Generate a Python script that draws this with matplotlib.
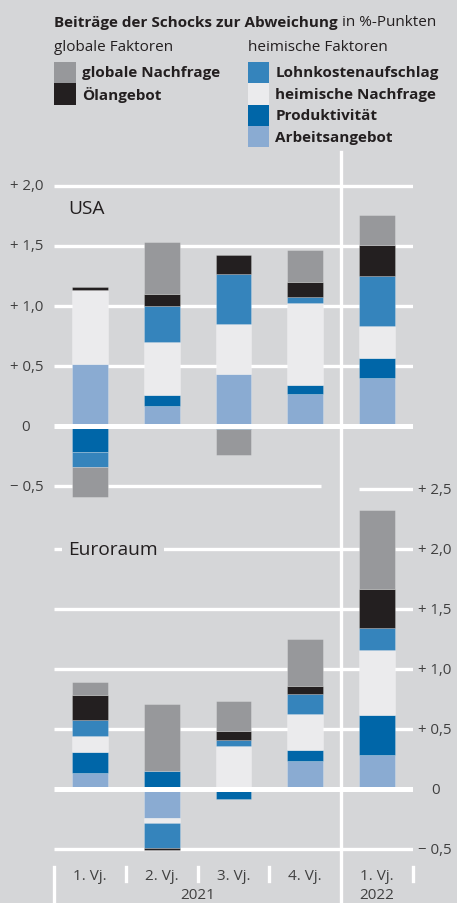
import numpy as np
import matplotlib
matplotlib.use("Agg")
import matplotlib.pyplot as plt
import matplotlib.transforms as mtransforms
from matplotlib.patches import Rectangle
from matplotlib.lines import Line2D

# ---------------- data ----------------
categories = ["1. Vj.", "2. Vj.", "3. Vj.", "4. Vj.", "1. Vj."]
years = ["2021", "2022"]
series_names = ["Arbeitsangebot", "Produktivität", "heimische Nachfrage",
                "Lohnkostenaufschlag", "Ölangebot", "globale Nachfrage"]

usa_arbeitsangebot = [0.52, 0.17, 0.435, 0.27, 0.405]
usa_produktivitaet = [-0.215, 0.09, -0.025, 0.075, 0.16]
usa_heim_nachfrage = [0.615, 0.445, 0.42, 0.68, 0.27]
usa_lohnkosten = [-0.12, 0.295, 0.41, 0.05, 0.415]
usa_oelangebot = [0.025, 0.10, 0.16, 0.125, 0.26]
usa_global_nachfrage = [-0.25, 0.435, -0.215, 0.27, 0.25]

eu_arbeitsangebot = [0.135, -0.24, 0.0, 0.24, 0.285]
eu_produktivitaet = [0.18, 0.15, -0.08, 0.09, 0.335]
eu_heim_nachfrage = [0.13, -0.04, 0.365, 0.30, 0.545]
eu_lohnkosten = [0.135, -0.21, 0.05, 0.165, 0.18]
eu_oelangebot = [0.21, -0.012, 0.072, 0.07, 0.325]
eu_global_nachfrage = [0.105, 0.56, 0.25, 0.39, 0.655]

usa_ticks = [2.0, 1.5, 1.0, 0.5, 0.0, -0.5]
usa_ticklabels = ["+ 2,0", "+ 1,5", "+ 1,0", "+ 0,5", "0", "\u2212 0,5"]
eu_ticks = [2.5, 2.0, 1.5, 1.0, 0.5, 0.0, -0.5]
eu_ticklabels = ["+ 2,5", "+ 2,0", "+ 1,5", "+ 1,0", "+ 0,5", "0", "\u2212 0,5"]

# ---------------- style ----------------
BG = "#d5d6d8"
C_GLOBAL = "#97989b"
C_OEL = "#231f20"
C_LOHN = "#3584bc"
C_HEIM = "#ebebed"
C_PROD = "#0066a8"
C_ARB = "#8aabd2"
TXT = "#231f20"
TICK = "#404040"
FONT = ["Open Sans", "DejaVu Sans"]
plt.rcParams["font.family"] = FONT

W, H = 457, 904
fig = plt.figure(figsize=(W / 100, H / 100), dpi=100, facecolor=BG)

X0, DX = 90.0, 71.75  # pixel centre of first bar, pixel spacing
x = np.arange(len(categories))


def make_axes(zero_px, ppu, ylo, yhi):
    top = zero_px - yhi * ppu
    bot = zero_px - ylo * ppu
    left = X0 - 0.5 * DX
    right = X0 + 4.5 * DX
    ax = fig.add_axes([left / W, 1 - bot / H, (right - left) / W, (bot - top) / H])
    ax.set_xlim(-0.5, 4.5)
    ax.set_ylim(ylo, yhi)
    ax.axis("off")
    ax.patch.set_alpha(0)
    return ax


def draw_stack(ax, series):
    pos = np.zeros(len(x))
    neg = np.zeros(len(x))
    for vals, color in series:
        v = np.asarray(vals, dtype=float)
        bottom = np.where(v >= 0, pos, neg)
        ax.bar(x, v, width=0.5, bottom=bottom, color=color,
               edgecolor=(1, 1, 1, 0.25), linewidth=0.6, zorder=2)
        pos += np.clip(v, 0, None)
        neg += np.clip(v, None, 0)


ax_us = make_axes(427.3, 120.2, -0.62, 2.2)
ax_eu = make_axes(790.3, 120.0, -0.55, 2.65)

# gridlines
GW = 2.4
for t in usa_ticks:
    if t == 0:
        ax_us.hlines(t, -0.5, 4.5, color="white", lw=3.6, zorder=3)
    elif t == -0.5:
        ax_us.hlines(t, -0.5, 3.22, color="white", lw=GW, zorder=1)
    else:
        ax_us.hlines(t, -0.5, 4.5, color="white", lw=GW, zorder=1)
for t in eu_ticks:
    if t == 0:
        ax_eu.hlines(t, -0.5, 4.5, color="white", lw=3.6, zorder=3)
    elif t == 2.5:
        ax_eu.hlines(t, 3.75, 4.5, color="white", lw=GW, zorder=1)
    else:
        ax_eu.hlines(t, -0.5, 4.5, color="white", lw=GW, zorder=1)

draw_stack(ax_us, [(usa_arbeitsangebot, C_ARB), (usa_produktivitaet, C_PROD),
                   (usa_heim_nachfrage, C_HEIM), (usa_lohnkosten, C_LOHN),
                   (usa_oelangebot, C_OEL), (usa_global_nachfrage, C_GLOBAL)])
draw_stack(ax_eu, [(eu_arbeitsangebot, C_ARB), (eu_produktivitaet, C_PROD),
                   (eu_heim_nachfrage, C_HEIM), (eu_lohnkosten, C_LOHN),
                   (eu_oelangebot, C_OEL), (eu_global_nachfrage, C_GLOBAL)])

# y tick labels
TFS = 10.8
tr_us = mtransforms.blended_transform_factory(fig.transFigure, ax_us.transData)
for t, lab in zip(usa_ticks, usa_ticklabels):
    if lab == "0":
        ax_us.text(25.5 / W, t, lab, transform=tr_us, ha="center", va="center",
                   fontsize=TFS, color=TICK, clip_on=False)
    else:
        ax_us.text(43.5 / W, t, lab, transform=tr_us, ha="right", va="center",
                   fontsize=TFS, color=TICK, clip_on=False)
tr_eu = mtransforms.blended_transform_factory(fig.transFigure, ax_eu.transData)
for t, lab in zip(eu_ticks, eu_ticklabels):
    if lab == "0":
        ax_eu.text(435.5 / W, t, lab, transform=tr_eu, ha="center", va="center",
                   fontsize=TFS, color=TICK, clip_on=False)
    else:
        ax_eu.text(418 / W, t, lab, transform=tr_eu, ha="left", va="center",
                   fontsize=TFS, color=TICK, clip_on=False)

# panel labels
ax_us.text((68 - X0) / DX, 1.82, "USA", ha="left", va="center", fontsize=13.8,
           color=TXT, zorder=4)
ax_eu.text((68 - X0) / DX, 2.0, "Euroraum", ha="left", va="center", fontsize=13.8,
           color=TXT, zorder=4,
           bbox=dict(boxstyle="square,pad=0.33", fc=BG, ec="none"))

# vertical separators
btr = mtransforms.blended_transform_factory(ax_us.transData, fig.transFigure)
fig.add_artist(Line2D([3.5, 3.5], [1 - 153 / H, 0], transform=btr,
                      color="white", lw=2.4, zorder=5))
fig.add_artist(Line2D([-0.5, -0.5], [1 - 868 / H, 0], transform=btr,
                      color="white", lw=2.4, zorder=5))
for xs in [0.5, 1.5, 2.5, 4.5]:
    fig.add_artist(Line2D([xs, xs], [1 - 868 / H, 1 - 882 / H], transform=btr,
                          color="white", lw=2.4, zorder=5))

# category labels
CFS = 11
for xi, lab in zip(x, categories):
    fig.text(xi, 1 - 877 / H, lab, transform=btr, ha="center", va="center",
             fontsize=CFS, color=TICK)
fig.text(1.5, 1 - 896 / H, years[0], transform=btr, ha="center", va="center",
         fontsize=CFS, color=TICK)
fig.text(4.0, 1 - 896 / H, years[1], transform=btr, ha="center", va="center",
         fontsize=CFS, color=TICK)

# title
LFS = 11
t1 = fig.text(54 / W, 1 - 22.5 / H, "Beiträge der Schocks zur Abweichung",
              ha="left", va="center", fontsize=LFS, fontweight="bold", color=TXT)
ax_us.annotate(" in %-Punkten", xy=(1, 0.5), xycoords=t1, ha="left", va="center",
               fontsize=LFS, color=TXT, annotation_clip=False)
fig.text(54 / W, 1 - 47.5 / H, "globale Faktoren", ha="left", va="center",
         fontsize=LFS, color=TXT)
fig.text(248 / W, 1 - 47.5 / H, "heimische Faktoren", ha="left", va="center",
         fontsize=LFS, color=TXT)

# legend
PW, PH, PY0 = 21.7, 21.4, 62.7
left_items = [("globale Nachfrage", C_GLOBAL), ("Ölangebot", C_OEL)]
right_items = [("Lohnkostenaufschlag", C_LOHN), ("heimische Nachfrage", C_HEIM),
               ("Produktivität", C_PROD), ("Arbeitsangebot", C_ARB)]
for items, px, tx in [(left_items, 54, 82.3), (right_items, 247.7, 275.3)]:
    for i, (lab, col) in enumerate(items):
        ytop = PY0 + i * PH
        fig.add_artist(Rectangle((px / W, 1 - (ytop + PH) / H), PW / W, PH / H,
                                 transform=fig.transFigure, fc=col, ec="none"))
        fig.text(tx / W, 1 - (ytop + PH / 2) / H, lab, ha="left", va="center",
                 fontsize=LFS, fontweight="bold", color=TXT)

fig.savefig("out.png", dpi=100, facecolor=BG)
